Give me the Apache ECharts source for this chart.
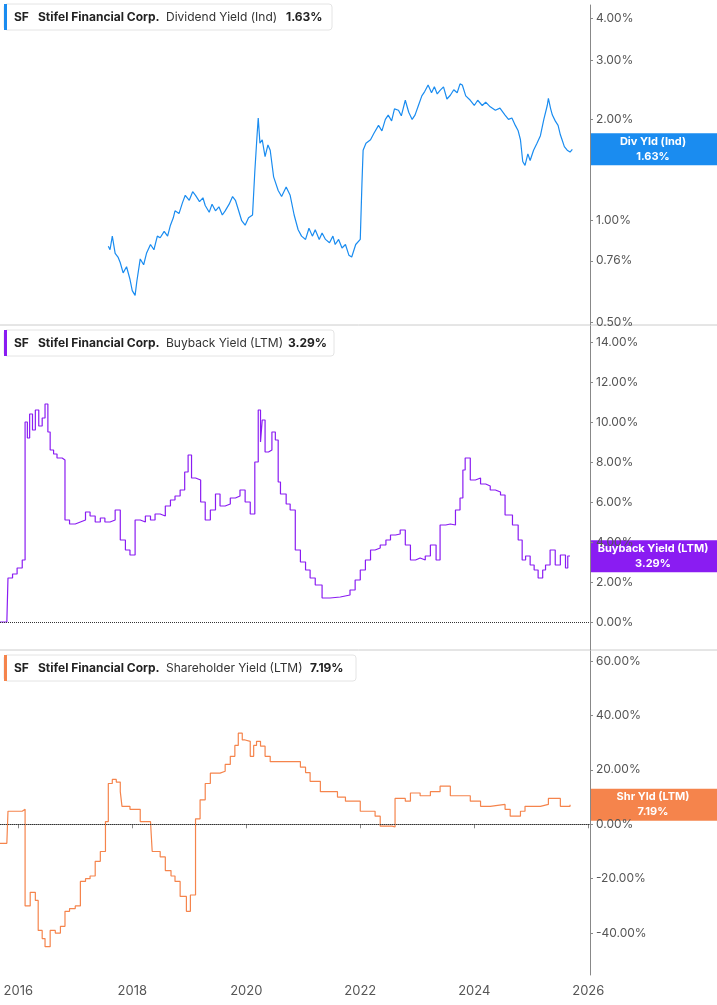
<!DOCTYPE html>
<html><head><meta charset="utf-8">
<script src="https://cdn.jsdelivr.net/npm/echarts@6/dist/echarts.min.js"></script>
<style>html,body{margin:0;padding:0;background:#fff}#main{width:717px;height:1005px}</style>
</head><body><div id="main"></div>
<script>
// dates as decimal years, values in %
const divYield = [
  [17.58,0.84],[17.61,0.82],[17.65,0.90],[17.70,0.80],[17.75,0.78],[17.79,0.75],[17.84,0.70],[17.90,0.73],[17.96,0.67],[18.0,0.62],[18.05,0.60],[18.08,0.66],
  [18.14,0.77],[18.2,0.74],[18.25,0.80],[18.32,0.85],[18.38,0.82],[18.44,0.90],[18.49,0.89],[18.56,0.93],[18.62,0.90],[18.67,0.97],[18.72,1.02],
  [18.75,1.07],[18.82,1.05],[18.88,1.13],[18.93,1.19],[19.0,1.15],[19.06,1.22],[19.11,1.19],[19.18,1.14],[19.24,1.17],[19.28,1.11],[19.35,1.06],
  [19.40,1.12],[19.46,1.07],[19.52,1.10],[19.58,1.04],[19.63,1.07],[19.70,1.12],[19.76,1.18],[19.81,1.15],[19.86,1.08],[19.92,1.00],[19.98,0.97],
  [20.04,1.02],[20.11,1.04],[20.15,1.40],[20.19,1.80],[20.21,2.02],[20.24,1.70],[20.28,1.74],[20.33,1.55],[20.38,1.68],[20.42,1.62],[20.48,1.35],
  [20.56,1.23],[20.62,1.18],[20.70,1.26],[20.77,1.19],[20.84,1.04],[20.91,0.94],[20.97,0.90],[21.04,0.88],[21.10,0.95],[21.16,0.90],[21.21,0.94],
  [21.28,0.88],[21.33,0.92],[21.39,0.88],[21.46,0.86],[21.52,0.90],[21.56,0.85],[21.62,0.88],[21.68,0.83],[21.74,0.85],[21.80,0.79],[21.85,0.78],
  [21.92,0.85],[22.0,0.88],[22.03,1.30],[22.05,1.62],[22.10,1.70],[22.18,1.74],[22.24,1.82],[22.32,1.92],[22.38,1.85],[22.44,2.00],[22.49,2.06],
  [22.55,1.98],[22.60,2.15],[22.67,2.13],[22.72,2.05],[22.79,2.28],[22.85,2.10],[22.91,2.00],[22.96,2.06],[23.02,2.20],[23.08,2.35],[23.13,2.42],
  [23.19,2.53],[23.25,2.40],[23.30,2.50],[23.35,2.38],[23.40,2.44],[23.46,2.50],[23.52,2.30],[23.58,2.36],[23.64,2.45],[23.70,2.40],[23.75,2.55],
  [23.79,2.53],[23.85,2.35],[23.93,2.28],[24.0,2.20],[24.06,2.28],[24.14,2.20],[24.20,2.25],[24.28,2.18],[24.37,2.13],[24.45,2.16],[24.54,2.06],
  [24.60,2.00],[24.66,2.02],[24.72,1.92],[24.77,1.85],[24.81,1.74],[24.85,1.50],[24.89,1.46],[24.94,1.58],[24.98,1.51],[25.04,1.62],[25.10,1.70],
  [25.16,1.79],[25.22,2.00],[25.28,2.20],[25.30,2.31],[25.34,2.15],[25.37,2.06],[25.42,1.98],[25.47,1.92],[25.51,1.80],[25.54,1.74],[25.58,1.66],
  [25.63,1.62],[25.68,1.60],[25.72,1.63]
];
const buybackYield = [
  [15.68,0],[15.80,0],[15.82,2.2],[15.90,2.4],[15.98,2.7],[16.07,3.1],[16.12,10.0],[16.16,9.2],[16.20,10.4],[16.25,9.6],[16.30,10.6],[16.36,9.8],
  [16.42,10.2],[16.47,10.9],[16.52,9.5],[16.56,8.6],[16.62,8.4],[16.68,8.2],[16.77,8.1],[16.82,5.1],[16.90,4.9],[17.0,5.0],[17.09,5.1],[17.18,5.5],
  [17.26,5.3],[17.35,5.0],[17.44,5.2],[17.52,5.0],[17.61,5.1],[17.70,5.6],[17.79,4.1],[17.88,3.6],[17.96,3.35],[18.05,5.1],[18.14,5.0],[18.23,5.3],
  [18.32,5.1],[18.40,5.4],[18.49,5.3],[18.58,5.8],[18.67,6.1],[18.75,6.3],[18.84,6.6],[18.92,7.5],[18.98,8.35],[19.04,7.2],[19.11,7.1],[19.20,6.0],
  [19.28,5.1],[19.37,5.6],[19.46,6.4],[19.54,5.8],[19.63,5.9],[19.72,6.2],[19.81,6.3],[19.89,6.6],[19.98,6.0],[20.07,5.4],[20.15,8.0],[20.21,10.6],
  [20.25,9.0],[20.28,10.1],[20.33,8.5],[20.39,8.6],[20.45,9.5],[20.51,9.1],[20.56,7.0],[20.60,6.4],[20.70,5.9],[20.77,5.6],[20.86,3.6],[20.95,3.0],
  [21.04,2.6],[21.12,2.2],[21.21,1.85],[21.33,1.2],[21.47,1.25],[21.65,1.35],[21.82,1.6],[21.91,2.1],[22.0,2.6],[22.09,3.1],[22.18,3.6],[22.26,3.7],
  [22.35,3.85],[22.45,4.1],[22.53,4.35],[22.62,4.4],[22.70,4.6],[22.79,3.85],[22.88,3.1],[22.97,3.2],[23.05,3.1],[23.14,3.3],[23.23,3.85],[23.33,3.1],
  [23.40,4.85],[23.50,4.9],[23.58,4.85],[23.67,5.6],[23.75,6.2],[23.80,7.6],[23.84,8.2],[23.93,7.1],[24.02,7.2],[24.11,6.9],[24.20,6.8],[24.28,6.6],
  [24.37,6.5],[24.46,6.35],[24.54,5.35],[24.67,4.85],[24.77,4.1],[24.84,3.1],[24.90,3.3],[24.98,2.85],[25.05,2.6],[25.12,2.2],[25.20,2.6],[25.25,2.85],
  [25.33,3.6],[25.42,2.85],[25.51,3.35],[25.60,2.7],[25.64,3.3],[25.68,3.29]
];
const shareholderYield = [
  [15.68,-7],[15.80,-7],[15.82,4.8],[16.07,5.5],[16.12,-30],[16.21,-25],[16.30,-28],[16.35,-39],[16.42,-42],[16.47,-45],[16.56,-39],[16.65,-40],
  [16.74,-37.5],[16.82,-32],[16.90,-31],[17.0,-30],[17.09,-21],[17.18,-20],[17.26,-19],[17.35,-13.6],[17.44,-10],[17.53,1],[17.58,15],[17.65,16.5],
  [17.72,15.5],[17.79,12],[17.82,6.6],[17.96,5.5],[18.05,5.5],[18.14,1],[18.32,0.3],[18.35,-10],[18.49,-12],[18.58,-17],[18.68,-19],[18.75,-21],
  [18.84,-26.5],[18.95,-32],[19.02,-26],[19.11,2],[19.19,9],[19.28,15],[19.37,18.8],[19.54,19.5],[19.63,22],[19.72,25],[19.80,29],[19.86,33.5],
  [19.93,31],[19.98,30.5],[20.07,25],[20.13,29],[20.18,30.5],[20.25,28.7],[20.33,25],[20.42,23],[20.60,23],[20.77,23],[20.95,21],[21.04,19],
  [21.12,15.8],[21.30,12],[21.47,12],[21.60,10],[21.74,8.5],[22.0,4.8],[22.26,3],[22.35,-0.7],[22.56,-1],[22.61,9.5],[22.79,8.5],[22.88,11.5],
  [23.05,10.5],[23.23,12],[23.40,14],[23.58,10.5],[23.75,10.5],[23.93,8.5],[24.11,6.6],[24.28,7.3],[24.54,5.5],[24.63,3],[24.81,4.8],[24.89,6.6],
  [25.16,7.3],[25.30,9.5],[25.51,6.6],[25.68,7.19]
];
const yearTicks = [2016,2018,2020,2022,2024,2026];
const divTicks = [0.5,0.76,1,2,3,4];
const buybackTicks = [0,2,4,6,8,10,12,14];
const shrTicks = [-40,-20,0,20,40,60];

const toSeries = arr => arr.map(d => [2000 + d[0], d[1]]);
const chart = echarts.init(document.getElementById('main'));
const fmt = v => v.toFixed(2) + '%';
const font = 'Inter, "Noto Sans", sans-serif';
const yAxisBase = (ticks) => ({
  position: 'right',
  axisLine: {show: true, lineStyle: {color: '#888'}},
  axisTick: {show: true, length: 3, customValues: ticks, lineStyle: {color: '#888'}},
  axisLabel: {customValues: ticks, formatter: fmt, color: '#555', fontSize: 12, fontFamily: font, margin: 6},
  splitLine: {show: false}
});
const xBase = (show) => ({
  type: 'value', min: 2015.68, max: 2026.03, gridIndex: 0,
  axisLine: {show: show, lineStyle: {color: '#888'}},
  axisTick: {show: show, customValues: yearTicks, length: 4, lineStyle: {color: '#888'}},
  axisLabel: {show: show, customValues: yearTicks, formatter: v => String(Math.round(v)), color: '#555', fontSize: 13, fontFamily: font, margin: 10},
  splitLine: {show: false}
});
const zeroLine = {silent: true, symbol: 'none', label: {show: false},
  lineStyle: {color: '#333', type: 'dotted', width: 1}, data: [{yAxis: 0}]};

chart.setOption({
  animation: false,
  grid: [
    {left: 0, right: 127, top: 5, height: 320},
    {left: 0, right: 127, top: 326, height: 324},
    {left: 0, right: 127, top: 651, height: 324}
  ],
  xAxis: [Object.assign(xBase(false), {gridIndex: 0}), Object.assign(xBase(false), {gridIndex: 1}), Object.assign(xBase(true), {gridIndex: 2})],
  yAxis: [
    Object.assign(yAxisBase(divTicks), {type: 'log', gridIndex: 0, min: 0.49, max: 4.375}),
    Object.assign(yAxisBase(buybackTicks), {type: 'value', gridIndex: 1, min: -1.4, max: 14.8}),
    Object.assign(yAxisBase(shrTicks), {type: 'value', gridIndex: 2, min: -55.4, max: 63.7})
  ],
  series: [
    {type: 'line', xAxisIndex: 0, yAxisIndex: 0, data: toSeries(divYield), showSymbol: false, lineStyle: {color: '#1a8cf0', width: 1.2}},
    {type: 'line', xAxisIndex: 1, yAxisIndex: 1, step: 'end', data: toSeries(buybackYield), showSymbol: false, lineStyle: {color: '#8a1cf2', width: 1.2}, markLine: zeroLine},
    {type: 'line', xAxisIndex: 2, yAxisIndex: 2, step: 'end', data: toSeries(shareholderYield), showSymbol: false, lineStyle: {color: '#f5844c', width: 1.2}, markLine: zeroLine}
  ]
});

// legends, end-value tags, panel separators
const panels = [
  {top: 4, color: '#1a8cf0', metric: 'Dividend Yield (Ind)', val: '1.63%', tag: 'Div Yld (Ind)', last: 1.63, idx: 0, w: 328},
  {top: 330, color: '#8a1cf2', metric: 'Buyback Yield (LTM)', val: '3.29%', tag: 'Buyback Yield (LTM)', last: 3.29, idx: 1, w: 330},
  {top: 655, color: '#f5844c', metric: 'Shareholder Yield (LTM)', val: '7.19%', tag: 'Shr Yld (LTM)', last: 7.19, idx: 2, w: 352}
];
const g = [];
[325, 650].forEach(y => g.push({type: 'line', shape: {x1: 0, y1: y, x2: 717, y2: y}, style: {stroke: '#ccc', lineWidth: 1}}));
panels.forEach(p => {
  g.push({type: 'rect', shape: {x: 4, y: p.top, width: p.w, height: 26, r: 3}, style: {fill: '#fff', stroke: '#e4e4e4'}});
  g.push({type: 'rect', shape: {x: 4, y: p.top, width: 3, height: 26}, style: {fill: p.color}});
  g.push({type: 'text', x: 14, y: p.top + 13, style: {text: 'SF', fill: '#222', font: 'bold 12px ' + font, verticalAlign: 'middle'}});
  g.push({type: 'text', x: 38, y: p.top + 13, style: {text: 'Stifel Financial Corp.', fill: '#222', font: 'bold 12px ' + font, verticalAlign: 'middle'}});
  g.push({type: 'text', x: 166, y: p.top + 13, style: {text: p.metric, fill: '#333', font: '12px ' + font, verticalAlign: 'middle'}});
  g.push({type: 'text', x: p.w - 42, y: p.top + 13, style: {text: p.val, fill: '#222', font: 'bold 12px ' + font, verticalAlign: 'middle'}});
  const py = chart.convertToPixel({yAxisIndex: p.idx}, p.last);
  g.push({type: 'rect', shape: {x: 590, y: py - 16, width: 127, height: 32}, style: {fill: p.color}});
  g.push({type: 'text', x: 653, y: py - 8, style: {text: p.tag, fill: '#fff', font: 'bold 11px ' + font, align: 'center', verticalAlign: 'middle'}});
  g.push({type: 'text', x: 653, y: py + 7, style: {text: p.val, fill: '#fff', font: 'bold 11px ' + font, align: 'center', verticalAlign: 'middle'}});
});
chart.setOption({graphic: g});
</script>
</body></html>
